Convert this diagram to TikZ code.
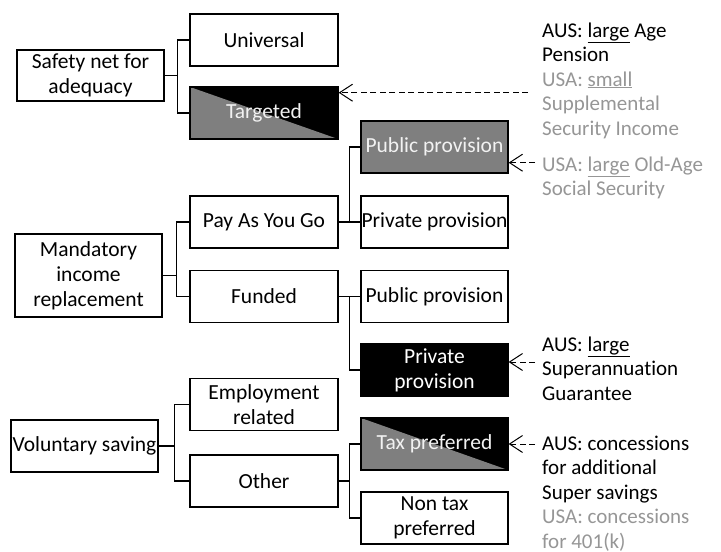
\documentclass[tikz,border=0pt]{standalone}
\usepackage{fontspec}
\setmainfont{Carlito}[Ligatures=NoCommon]
\usetikzlibrary{arrows.meta}
\definecolor{annogray}{RGB}{150,150,150}
\definecolor{boxgray}{RGB}{127,127,127}
\definecolor{boxtext}{RGB}{242,242,242}
\frenchspacing
\newcommand\annolines[1]{\vtop{\baselineskip=24.5pt\lineskiplimit=0pt\halign{##\hfil\cr#1\crcr}}}
\begin{document}
\begin{tikzpicture}[x=1pt,y=-1pt,
  box/.style={draw=black, line width=1.3pt, fill=white, minimum width=148pt,
    minimum height=52pt, inner sep=0pt, align=center,
    font=\fontsize{21.5}{25}\selectfont},
  narrowbox/.style={box, minimum width=147pt},
  graybox/.style={narrowbox, fill=boxgray, text=boxtext},
  blackbox/.style={narrowbox, fill=black, text=white},
  halfbox/.style={fill=black, text=boxtext,
    path picture={\fill[boxgray] (path picture bounding box.north west) --
      (path picture bounding box.south west) --
      (path picture bounding box.south east) -- cycle;}},
  conn/.style={draw=black, line width=1.3pt},
  annarrow/.style={draw=black, line width=1pt, dash pattern=on 6pt off 3.5pt,
    -{Straight Barb[length=13pt,width=17pt,line width=1pt]}},
  anno/.style={anchor=base west, inner sep=0pt,
    font=\fontsize{21}{24.5}\selectfont}
]
\useasboundingbox (0,0) rectangle (721,552);

% column 1
\node[narrowbox, minimum height=51pt] (safety) at (90.5,75.5) {Safety net for\\adequacy};
\node[narrowbox, minimum height=83pt] (mandatory) at (88.5,275.5) {Mandatory\\income\\replacement};
\node[narrowbox] (voluntary) at (84.5,446) {Voluntary saving};

% column 2
\node[box] (universal) at (264,40) {Universal};
\node[box, halfbox] (targeted) at (264,113) {Targeted};
\node[box] (payg) at (264,222) {Pay As You Go};
\node[box] (funded) at (264,296.5) {Funded};
\node[box] (employment) at (264,404.5) {Employment\\related};
\node[box] (other) at (264,481) {Other};

% column 3
\node[graybox] (pubA) at (434.5,147) {Public provision};
\node[narrowbox] (privA) at (434.5,222) {Private provision};
\node[narrowbox] (pubB) at (434.5,296.5) {Public provision};
\node[blackbox] (privB) at (434.5,370) {Private\\provision};
\node[narrowbox, halfbox] (tax) at (434.5,444) {Tax preferred};
\node[narrowbox] (nontax) at (434.5,518) {Non tax\\preferred};

% tree connectors
\draw[conn] (safety.east) -- ++(13,0) |- (universal.west);
\draw[conn] (safety.east) -- ++(13,0) |- (targeted.west);
\draw[conn] (mandatory.east) -- ++(14,0) |- (payg.west);
\draw[conn] (mandatory.east) -- ++(14,0) |- (funded.west);
\draw[conn] (voluntary.east) -- ++(16,0) |- (employment.west);
\draw[conn] (voluntary.east) -- ++(16,0) |- (other.west);
\draw[conn] (payg.east) -- ++(11,0) |- (pubA.west);
\draw[conn] (payg.east) -- ++(11,0) |- (privA.west);
\draw[conn] (funded.east) -- ++(11,0) |- (pubB.west);
\draw[conn] (funded.east) -- ++(11,0) |- (privB.west);
\draw[conn] (other.east) -- ++(11,0) |- (tax.west);
\draw[conn] (other.east) -- ++(11,0) |- (nontax.west);

% annotations
\node[anno] (n1) at (542,37) {\annolines{AUS: \underline{large} Age\cr Pension\cr
  \textcolor{annogray}{USA: \underline{small}}\cr
  \textcolor{annogray}{Supplemental}\cr
  \textcolor{annogray}{Security Income}}};
\node[anno, text=annogray] (n2) at (542,171) {\annolines{USA: \underline{large} Old-Age\cr Social Security}};
\node[anno] (n3) at (542,351) {\annolines{AUS: \underline{large}\cr Superannuation\cr Guarantee}};
\node[anno] (n4) at (542,450) {\annolines{AUS: concessions\cr for additional\cr Super savings\cr
  \textcolor{annogray}{USA: concessions}\cr
  \textcolor{annogray}{for 401(k)}}};

\coordinate (a1) at (528,92.7);
\coordinate (a2) at (535,162.7);
\coordinate (a3) at (535,362);
\coordinate (a4) at (535,444);
\draw[annarrow] (a1) -- (targeted.east |- a1);
\draw[annarrow] (a2) -- (pubA.east |- a2);
\draw[annarrow] (a3) -- (privB.east |- a3);
\draw[annarrow] (a4) -- (tax.east |- a4);
\end{tikzpicture}
\end{document}
